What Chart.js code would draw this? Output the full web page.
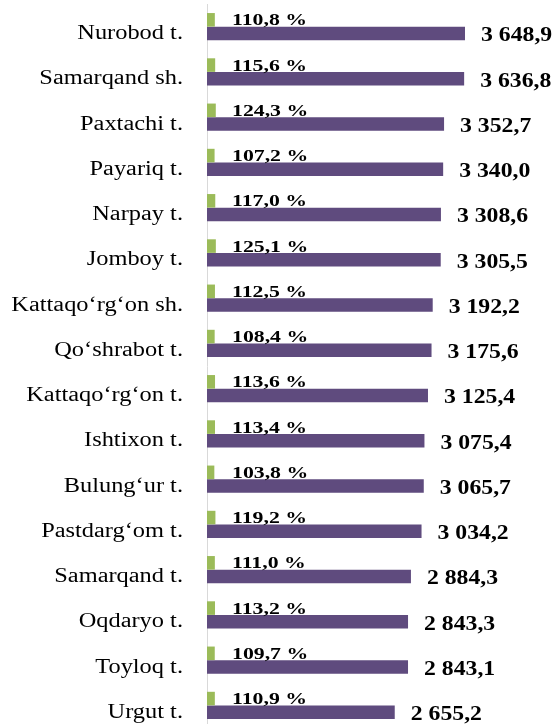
<!DOCTYPE html>
<html>
<head>
<meta charset="utf-8">
<script src="https://cdn.jsdelivr.net/npm/chart.js@4/dist/chart.umd.min.js"></script>
<style>
  html, body { margin: 0; padding: 0; background: #fff; overflow: hidden; }
  .chart-container { width: 557px; height: 732px; position: relative; }
</style>
</head>
<body>
<div class="chart-container">
  <canvas id="chart"></canvas>
</div>
<script>
const districts = [
  "Nurobod t.", "Samarqand sh.", "Paxtachi t.", "Payariq t.", "Narpay t.",
  "Jomboy t.", "Kattaqo\u2018rg\u2018on sh.", "Qo\u2018shrabot t.", "Kattaqo\u2018rg\u2018on t.",
  "Ishtixon t.", "Bulung\u2018ur t.", "Pastdarg\u2018om t.", "Samarqand t.",
  "Oqdaryo t.", "Toyloq t.", "Urgut t."
]
const amounts = [3648.9, 3636.8, 3352.7, 3340.0, 3308.6, 3305.5, 3192.2, 3175.6,
  3125.4, 3075.4, 3065.7, 3034.2, 2884.3, 2843.3, 2843.1, 2655.2]
const growth = [110.8, 115.6, 124.3, 107.2, 117.0, 125.1, 112.5, 108.4,
  113.6, 113.4, 103.8, 119.2, 111.0, 113.2, 109.7, 110.9]

// "3 648,9" style numbers
function fmt(v) {
  let parts = v.toFixed(1).split(".")
  let whole = parts[0].replace(/\B(?=(\d{3})+(?!\d))/g, " ")
  return whole + "," + parts[1]
}

// the source text is rendered stretched sideways, so squash/stretch it the same way
function wideText(ctx, text, x, y, sx) {
  ctx.save()
  ctx.translate(x, y)
  ctx.scale(sx, 1)
  ctx.fillText(text, 0, 0)
  ctx.restore()
}

const labelPlugin = {
  id: "valueLabels",
  afterDatasetsDraw(chart) {
    const ctx = chart.ctx
    const yScale = chart.scales.y
    ctx.save()
    ctx.fillStyle = "#000"
    ctx.textBaseline = "alphabetic"

    // category names
    ctx.textAlign = "right"
    ctx.font = "20px 'Liberation Serif'"
    districts.forEach((name, i) => {
      wideText(ctx, name, chart.chartArea.left - 24, yScale.getPixelForValue(i) + 12.5, 1.22)
    })

    ctx.textAlign = "left"
    ctx.font = "bold 16px 'Liberation Serif'"
    chart.getDatasetMeta(0).data.forEach((bar, i) => {
      wideText(ctx, fmt(growth[i]) + " %", chart.chartArea.left + 25, bar.y + 5.5, 1.36)
    })
    ctx.font = "bold 21px 'Liberation Serif'"
    chart.getDatasetMeta(1).data.forEach((bar, i) => {
      wideText(ctx, fmt(amounts[i]), bar.x + 16, bar.y + 8, 1.13)
    })
    ctx.restore()
  }
}

const config = {
  type: "bar",
  data: {
    labels: districts,
    datasets: [{
      label: "growth",
      data: growth,
      backgroundColor: "#9BBB59",
      barPercentage: 1,
      categoryPercentage: 0.6
    }, {
      label: "amount",
      data: amounts,
      backgroundColor: "#5F4B7E",
      barPercentage: 1,
      categoryPercentage: 0.6
    }]
  },
  options: {
    indexAxis: "y",
    animation: false,
    responsive: true,
    maintainAspectRatio: false,
    layout: { padding: { top: 4, bottom: 4, left: 0, right: 0 } },
    plugins: {
      legend: { display: false },
      tooltip: { enabled: false }
    },
    scales: {
      x: {
        display: false,
        min: 0,
        max: 4950
      },
      y: {
        afterFit(scale) {
          scale.width = 207
          scale.paddingTop = 0
          scale.paddingBottom = 0
        },
        grid: { display: false, drawTicks: false },
        border: { display: true, color: "#D9D9D9", width: 1 },
        ticks: { display: false }
      }
    }
  },
  plugins: [labelPlugin]
}

new Chart(document.getElementById("chart"), config)
</script>
</body>
</html>
